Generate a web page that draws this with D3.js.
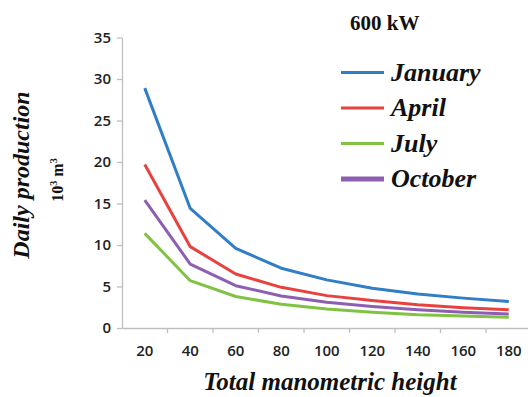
<!DOCTYPE html>
<html>
<head>
<meta charset="utf-8">
<script src="https://cdnjs.cloudflare.com/ajax/libs/d3/7.8.5/d3.min.js"></script>
<style>
  body { margin: 0; background: #fff; }
  .axis path, .axis line { stroke: #bfbfbf; stroke-width: 1.3px; }
  .axis text { font-family: "Open Sans", sans-serif; font-size: 15px; font-weight: 600; fill: #222; }
  .line { fill: none; stroke-width: 3px; stroke-linejoin: round; }
  .serif { font-family: "Liberation Serif", serif; font-weight: bold; fill: #111; }
</style>
</head>
<body>
<script>
// data
var heights = [20, 40, 60, 80, 100, 120, 140, 160, 180];
var january = [28.9, 14.4, 9.6, 7.2, 5.8, 4.8, 4.1, 3.6, 3.2];
var april   = [19.7, 9.8, 6.5, 4.9, 3.9, 3.3, 2.8, 2.45, 2.2];
var july    = [11.4, 5.7, 3.8, 2.85, 2.3, 1.9, 1.6, 1.45, 1.3];
var october = [15.4, 7.7, 5.1, 3.85, 3.1, 2.6, 2.2, 1.9, 1.7];
var yTicks = [0, 5, 10, 15, 20, 25, 30, 35];

var series = [
  {name: "January", values: january, color: "#2f7ec6"},
  {name: "April",   values: april,   color: "#e8423f"},
  {name: "July",    values: july,    color: "#80c342"},
  {name: "October", values: october, color: "#8d5fb2"}
];

var width = 528, height = 397;

var svg = d3.select("body").append("svg")
    .attr("width", width)
    .attr("height", height);

var x = d3.scaleBand().domain(heights).range([122, 531.5]).padding(0);
var y = d3.scaleLinear().domain([0, 35]).range([328, 37.5]);

// y axis
svg.append("g")
    .attr("class", "axis")
    .attr("transform", "translate(122,0)")
    .call(d3.axisLeft(y).tickValues(yTicks).tickSize(5).tickSizeOuter(0).tickPadding(6));

// x axis: labels centred in bands, ticks between bands
var xg = svg.append("g")
    .attr("class", "axis")
    .attr("transform", "translate(0,328)")
    .call(d3.axisBottom(x).tickSize(0).tickSizeOuter(0).tickPadding(17));

xg.selectAll(".sep")
  .data(heights.slice(1))
  .enter().append("line")
    .attr("x1", d => x(d))
    .attr("x2", d => x(d))
    .attr("y1", 0)
    .attr("y2", 5);

// lines
var line = d3.line()
    .x((d, i) => x(heights[i]) + x.bandwidth() / 2)
    .y(d => y(d));

svg.selectAll(".line")
  .data(series)
  .enter().append("path")
    .attr("class", "line")
    .attr("stroke", d => d.color)
    .attr("d", d => line(d.values));

// title
svg.append("text")
    .attr("class", "serif")
    .attr("x", 350)
    .attr("y", 30)
    .style("font-size", "21px")
    .text("600 kW");

// legend
var leg = svg.selectAll(".leg")
  .data(series)
  .enter().append("g")
    .attr("transform", (d, i) => "translate(341," + (72.5 + i * 35.5) + ")");

leg.append("line")
    .attr("x1", 0).attr("x2", 43)
    .attr("stroke", d => d.color)
    .attr("stroke-width", d => d.name === "October" ? 5 : 3);

leg.append("text")
    .attr("class", "serif")
    .attr("x", 50)
    .attr("y", 8)
    .style("font-size", "26px")
    .style("font-style", "italic")
    .text(d => d.name);

// axis titles
svg.append("text")
    .attr("class", "serif")
    .attr("x", 330)
    .attr("y", 390)
    .attr("text-anchor", "middle")
    .style("font-size", "25px")
    .style("font-style", "italic")
    .text("Total manometric height");

svg.append("text")
    .attr("class", "serif")
    .attr("transform", "translate(29,175) rotate(-90)")
    .attr("text-anchor", "middle")
    .style("font-size", "24px")
    .style("font-style", "italic")
    .text("Daily production");

var unit = svg.append("text")
    .attr("class", "serif")
    .attr("transform", "translate(63,180) rotate(-90)")
    .attr("text-anchor", "middle")
    .style("font-size", "16px");
unit.append("tspan").text("10");
unit.append("tspan").attr("dy", -6).style("font-size", "10px").text("3");
unit.append("tspan").attr("dy", 6).text(" m");
unit.append("tspan").attr("dy", -6).style("font-size", "10px").text("3");
</script>
</body>
</html>
